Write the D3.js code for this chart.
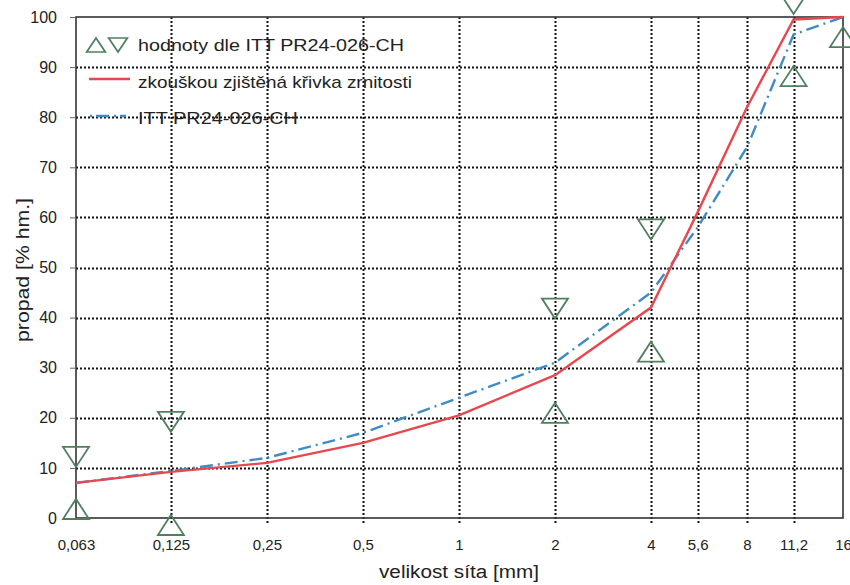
<!DOCTYPE html>
<html>
<head>
<meta charset="utf-8">
<script src="https://cdn.jsdelivr.net/npm/d3@7"></script>
<style>
  body { margin: 0; background: #fff; }
  svg { display: block; font-family: "Liberation Sans", Arial, sans-serif; }
</style>
</head>
<body>
<svg id="chart" width="850" height="585"></svg>
<script>
// ---- data ----
const sieves = [0.063, 0.125, 0.25, 0.5, 1, 2, 4, 5.6, 8, 11.2, 16];
const sieveLabels = ["0,063", "0,125", "0,25", "0,5", "1", "2", "4", "5,6", "8", "11,2", "16"];
const measured = [7, 9.2, 11, 15, 20.5, 28.5, 42, 61, 82, 99.5, 100];
const ittCurve = [7, 9.4, 12, 17, 24, 31, 45, 58, 74, 96.5, 100];
// triangle markers (limits from ITT)
const upperSieves = [0.063, 0.125, 2, 4, 11.2];
const upperValues = [12.2, 19.2, 41.8, 57.6, 102.6];
const lowerSieves = [0.063, 0.125, 2, 4, 11.2, 16];
const lowerValues = [1.8, -1.4, 21, 33.2, 88.2, 96];
const yTicks = [0, 10, 20, 30, 40, 50, 60, 70, 80, 90, 100];
const legendTexts = ["hodnoty dle ITT PR24-026-CH", "zkouškou zjištěná křivka zrnitosti", "ITT PR24-026-CH"];

const svg = d3.select("#chart");
const margin = { top: 17, right: 7, bottom: 67, left: 76 };
const width = 850, height = 585;
const innerWidth = width - margin.left - margin.right;
const innerHeight = height - margin.top - margin.bottom;

const g = svg.append("g").attr("transform", `translate(${margin.left},${margin.top})`);

const x = d3.scaleLog().domain([0.063, 16]).range([0, innerWidth]);
const y = d3.scaleLinear().domain([0, 100]).range([innerHeight, 0]);
const px = v => Math.round(v) + 0.5;

// grid (dotted)
g.append("g")
  .selectAll("line")
  .data(sieves.slice(1, -1))
  .join("line")
  .attr("x1", d => px(x(d))).attr("x2", d => px(x(d)))
  .attr("y1", 0).attr("y2", innerHeight + 7)
  .attr("stroke", "#111").attr("stroke-width", 2)
  .attr("stroke-dasharray", "2 2");

g.append("g")
  .selectAll("line")
  .data(yTicks.slice(1, -1))
  .join("line")
  .attr("x1", 0).attr("x2", innerWidth)
  .attr("y1", d => px(y(d))).attr("y2", d => px(y(d)))
  .attr("stroke", "#111").attr("stroke-width", 2)
  .attr("stroke-dasharray", "2 2");

// frame
g.append("rect")
  .attr("width", innerWidth).attr("height", innerHeight)
  .attr("fill", "none").attr("stroke", "#333").attr("stroke-width", 1.6);

// axes
const yAxis = d3.axisLeft(y).tickValues(yTicks).tickSize(6).tickPadding(13);
g.append("g").call(yAxis)
  .call(a => a.select(".domain").remove())
  .call(a => a.selectAll("line").attr("stroke", "#666"))
  .call(a => a.selectAll("text").attr("fill", "#222").style("font-size", "16px"));

const xAxis = d3.axisBottom(x).tickValues(sieves)
  .tickFormat((d, i) => sieveLabels[i]).tickSize(0).tickPadding(21);
g.append("g").attr("transform", `translate(0,${innerHeight})`).call(xAxis)
  .call(a => a.select(".domain").remove())
  .call(a => a.selectAll("text").attr("fill", "#222").style("font-size", "15px"));

svg.append("text")
  .attr("x", 459).attr("y", 578)
  .attr("text-anchor", "middle").attr("fill", "#222")
  .style("font-size", "18px")
  .attr("textLength", 160).attr("lengthAdjust", "spacingAndGlyphs")
  .text("velikost síta [mm]");

svg.append("text")
  .attr("transform", "translate(29,270) rotate(-90)")
  .attr("text-anchor", "middle").attr("fill", "#222")
  .style("font-size", "18px")
  .attr("textLength", 144).attr("lengthAdjust", "spacingAndGlyphs")
  .text("propad [% hm.]");

// curves
const lineOf = vals => d3.line().x((d, i) => x(sieves[i])).y(d => y(d))(vals);

g.append("path")
  .attr("d", lineOf(ittCurve))
  .attr("fill", "none").attr("stroke", "#3f8cc4").attr("stroke-width", 2.4)
  .attr("stroke-dasharray", "13 5 2 5");

g.append("path")
  .attr("d", lineOf(measured))
  .attr("fill", "none").attr("stroke", "#e8474f").attr("stroke-width", 2.4);

// triangles
const triColor = "#4f7f5f";
const triUp = "M0,-10L13,10L-13,10Z";
const triDown = "M0,10L13,-10L-13,-10Z";

g.append("g").selectAll("path")
  .data(upperValues)
  .join("path")
  .attr("transform", (d, i) => `translate(${x(upperSieves[i])},${y(d)})`)
  .attr("d", triDown)
  .attr("fill", "none").attr("stroke", triColor).attr("stroke-width", 1.8);

g.append("g").selectAll("path")
  .data(lowerValues)
  .join("path")
  .attr("transform", (d, i) => `translate(${x(lowerSieves[i])},${y(d)})`)
  .attr("d", triUp)
  .attr("fill", "none").attr("stroke", triColor).attr("stroke-width", 1.8);

// legend
const leg = svg.append("g");
leg.append("path").attr("transform", "translate(96,45) scale(0.72,0.7)")
  .attr("d", triUp).attr("fill", "none").attr("stroke", triColor).attr("stroke-width", 2.4);
leg.append("path").attr("transform", "translate(118,45) scale(0.72,0.7)")
  .attr("d", triDown).attr("fill", "none").attr("stroke", triColor).attr("stroke-width", 2.4);
leg.append("line").attr("x1", 89).attr("x2", 130).attr("y1", 79).attr("y2", 79)
  .attr("stroke", "#e8474f").attr("stroke-width", 2.6);
leg.append("line").attr("x1", 90).attr("x2", 126).attr("y1", 116).attr("y2", 116)
  .attr("stroke", "#3f8cc4").attr("stroke-width", 2.4).attr("stroke-dasharray", "2 4 13 5");

const legendY = [51, 88, 124];
const legendW = [266, 274, 160];
leg.selectAll("text.lt")
  .data(legendTexts)
  .join("text")
  .attr("class", "lt")
  .attr("x", 138)
  .attr("y", (d, i) => legendY[i])
  .attr("fill", "#222")
  .style("font-size", "17px")
  .attr("textLength", (d, i) => legendW[i])
  .attr("lengthAdjust", "spacingAndGlyphs")
  .text(d => d);
</script>
</body>
</html>
